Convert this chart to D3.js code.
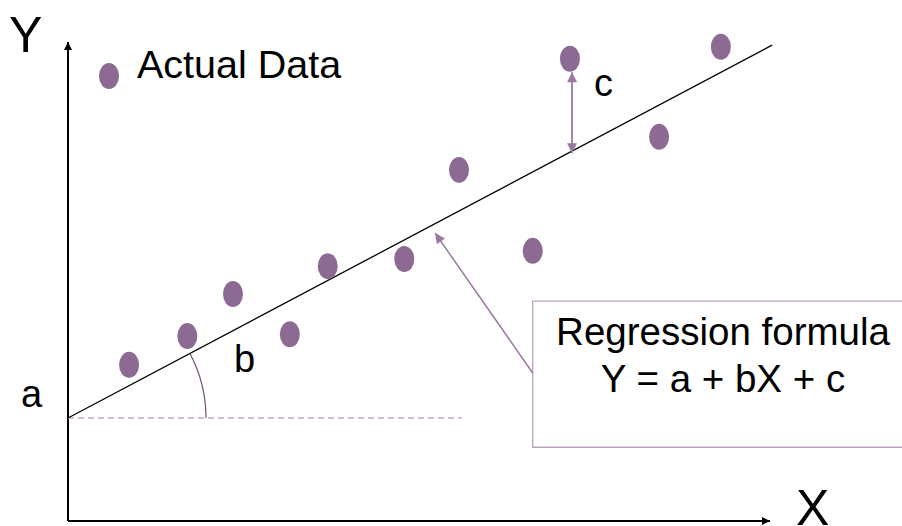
<!DOCTYPE html>
<html>
<head>
<meta charset="utf-8">
<script src="https://cdn.jsdelivr.net/npm/d3@7"></script>
<style>
  html, body { margin: 0; background: #fff; overflow: hidden; }
  svg { display: block; font-family: "Liberation Sans", Arial, sans-serif; }
</style>
</head>
<body>
<div id="chart"></div>
<script>
// actual data points (x, y) in chart units 0..100
var xs = [8.7, 17.0, 23.5, 31.6, 37.0, 47.9, 55.7, 66.2, 71.5, 84.2, 93.0];
var ys = [32.6, 38.6, 47.4, 39.0, 53.2, 54.7, 73.3, 56.4, 96.5, 80.2, 99.0];

// regression line Y = a + bX
var a = 21.5, b = 0.776;
var lineEnd = 100.3;

// residual "c" shown at this x
var cX = 71.8, cTop = 93.7;

var width = 902, height = 526;

var x = d3.scaleLinear().domain([0, 100]).range([68, 770]);
var y = d3.scaleLinear().domain([0, 100]).range([521, 42]);

var purple = "#8c6a94";

var svg = d3.select("#chart").append("svg")
    .attr("width", width)
    .attr("height", height);

var defs = svg.append("defs");
function marker(id, color, w, h) {
  defs.append("marker")
    .attr("id", id)
    .attr("viewBox", "0 0 10 10")
    .attr("refX", 10).attr("refY", 5)
    .attr("markerUnits", "userSpaceOnUse")
    .attr("markerWidth", w).attr("markerHeight", h)
    .attr("orient", "auto-start-reverse")
    .append("path")
    .attr("d", "M0,0L10,5L0,10Z")
    .attr("fill", color);
}
marker("axisArrow", "#000", 9, 8);
marker("purpArrow", "#9878a0", 11, 10);

// axes: plain lines with arrows
svg.append("line")
    .attr("x1", x(0)).attr("y1", y(0))
    .attr("x2", x(0)).attr("y2", y(100))
    .attr("stroke", "#000").attr("stroke-width", 2)
    .attr("marker-end", "url(#axisArrow)");
svg.append("line")
    .attr("x1", x(0)).attr("y1", y(0))
    .attr("x2", x(100)).attr("y2", y(0))
    .attr("stroke", "#000").attr("stroke-width", 2)
    .attr("marker-end", "url(#axisArrow)");

// dashed baseline at a
svg.append("line")
    .attr("x1", x(0)).attr("y1", y(a))
    .attr("x2", x(56.1)).attr("y2", y(a))
    .attr("stroke", "#c2a6c6").attr("stroke-width", 1.3)
    .attr("stroke-dasharray", "6,4");

// regression line
svg.append("line")
    .attr("x1", x(0)).attr("y1", y(a))
    .attr("x2", x(lineEnd)).attr("y2", y(a + b * lineEnd))
    .attr("stroke", "#000").attr("stroke-width", 1.3);

// angle arc for b
var ang = Math.atan2(y(a) - y(a + b * 100), x(100) - x(0));
var p = d3.path();
var r = 138;
p.moveTo(x(0) + r * Math.cos(-ang), y(a) + r * Math.sin(-ang));
p.arc(x(0), y(a), r, -ang, 0, false);
svg.append("path")
    .attr("d", p.toString())
    .attr("fill", "none")
    .attr("stroke", "#6f5076").attr("stroke-width", 1.2);

// residual arrow c
svg.append("line")
    .attr("x1", x(cX)).attr("y1", y(a + b * cX) + 2)
    .attr("x2", x(cX)).attr("y2", y(cTop))
    .attr("stroke", "#9878a0").attr("stroke-width", 1.8)
    .attr("marker-start", "url(#purpArrow)")
    .attr("marker-end", "url(#purpArrow)");

// formula box (open on the right, runs past the edge)
svg.append("path")
    .attr("d", "M" + (width + 20) + "," + y(45.9) +
               "H" + x(66.2) + "V" + y(15.4) + "H" + (width + 20))
    .attr("fill", "none")
    .attr("stroke", "#b9a2be").attr("stroke-width", 1.3);

// callout arrow to the line
svg.append("line")
    .attr("x1", x(66.2)).attr("y1", y(30.9))
    .attr("x2", x(52.3)).attr("y2", y(60.1))
    .attr("stroke", "#9878a0").attr("stroke-width", 1.5)
    .attr("marker-end", "url(#purpArrow)");

// data points
svg.selectAll("ellipse.pt")
    .data(xs.map(function(d, i) { return [d, ys[i]]; }))
    .enter().append("ellipse")
    .attr("class", "pt")
    .attr("cx", function(d) { return x(d[0]); })
    .attr("cy", function(d) { return y(d[1]); })
    .attr("rx", 10).attr("ry", 13)
    .attr("fill", purple);

// legend
svg.append("ellipse")
    .attr("cx", 109).attr("cy", 76)
    .attr("rx", 10).attr("ry", 13)
    .attr("fill", purple);
svg.append("text")
    .attr("x", 137).attr("y", 78)
    .attr("font-size", 39.5)
    .text("Actual Data");

// labels
svg.append("text").attr("x", 9).attr("y", 52).attr("font-size", 50).text("Y");
svg.append("text").attr("x", 796).attr("y", 525).attr("font-size", 50).text("X");
svg.append("text").attr("x", 21).attr("y", 407).attr("font-size", 38).text("a");
svg.append("text").attr("x", 234).attr("y", 372).attr("font-size", 38).text("b");
svg.append("text").attr("x", 594).attr("y", 96).attr("font-size", 38).text("c");

svg.append("text")
    .attr("x", 723).attr("y", 345)
    .attr("text-anchor", "middle")
    .attr("font-size", 38.5)
    .text("Regression formula");
svg.append("text")
    .attr("x", 723).attr("y", 392)
    .attr("text-anchor", "middle")
    .attr("font-size", 38.5)
    .text("Y = a + bX + c");
</script>
</body>
</html>
